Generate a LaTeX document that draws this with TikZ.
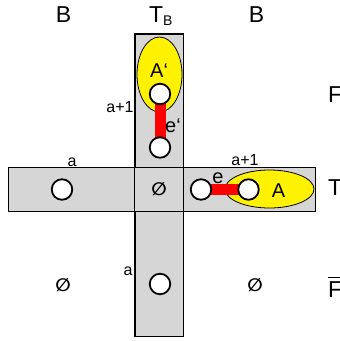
\documentclass[tikz,border=0pt]{standalone}
\usepackage{fontspec}
\setmainfont{Liberation Sans}
\newfontfamily\symfont{DejaVu Sans}
\usepackage{amsmath}
\usetikzlibrary{shapes,calc}
\definecolor{barfill}{RGB}{214,214,214}
\pgfdeclarelayer{front}
\pgfsetlayers{main,front}

\begin{document}
\begin{tikzpicture}[x=1pt,y=-1pt]
\tikzset{
	bar node/.style = {draw, line width = 0.8, fill = barfill, inner sep = 0},
	set node/.style = {ellipse, draw, line width = 0.8, fill = yellow, inner sep = 0},
	vertex/.style = {circle, draw, line width = 1.8, fill = white, inner sep = 0, minimum size = 20.5},
	edge/.style = {red, line width = 11},
	big/.style = {inner sep = 0, font = \fontsize{23}{27}\selectfont},
	mid/.style = {inner sep = 0, font = \fontsize{20}{24}\selectfont},
	small/.style = {inner sep = 0, font = \fontsize{16}{19}\selectfont},
	empty/.style = {inner sep = 0, font = \symfont\bfseries\fontsize{18}{20}\selectfont}
}
\path[use as bounding box, clip] (0,0) rectangle (340,341);
\node(vbar)[bar node, minimum width = 48, minimum height = 302]at(159,185){};
\node(hbar)[bar node, minimum width = 307, minimum height = 44]at(161.5,189){};
\draw[line width = 0.8](vbar.north west)rectangle(vbar.south east);
\node(Aprime)[set node, minimum width = 45, minimum height = 75]at(159.5,74.5){};
\node(A)[set node, minimum width = 89, minimum height = 38]at(269.5,189){};
\begin{pgfonlayer}{front}
\node(vtop)[vertex]at(160,94){};
\node(vmid)[vertex]at(160,147.5){};
\node(hleft)[vertex]at(62,189.5){};
\node(hmid)[vertex]at(201,189.5){};
\node(hright)[vertex]at(248.5,189.5){};
\node(vbot)[vertex]at(160,284){};
\end{pgfonlayer}
\draw[edge](vtop.center)--(vmid.center);
\draw[edge](hmid.center)--(hright.center);
% labels
\node(Bl)[big, anchor = base]at(63.5,22){B};
\node(TB)[big, anchor = base west]at(149,22){T\raisebox{-3pt}{\fontsize{14}{16}\selectfont B}};
\node(Br)[big, anchor = base]at(256.5,22){B};
\node(F)[big, anchor = base west]at(328,102){F};
\node(T)[big, anchor = base west]at(328,195){T};
\node(Fbar)[big, anchor = base west]at(328,297){$\overline{\text{F}}$};
\node(lAprime)[mid, anchor = base west]at(150,77){A‘};
\node(lA)[mid, anchor = base]at(278.5,197){A};
\node(leprime)[mid, anchor = base west]at(165,132){e‘};
\node(le)[mid, anchor = base]at(218,183){e};
\node(la1)[small, anchor = base]at(120,112){a+1};
\node(la2)[small, anchor = base]at(245,165){a+1};
\node(la3)[small, anchor = base]at(72,166){a};
\node(la4)[small, anchor = base]at(128,275){a};
\node(empty1)[empty]at(159,189){∅};
\node(empty2)[empty]at(63,285){∅};
\node(empty3)[empty]at(255,285){∅};
\end{tikzpicture}
\end{document}
